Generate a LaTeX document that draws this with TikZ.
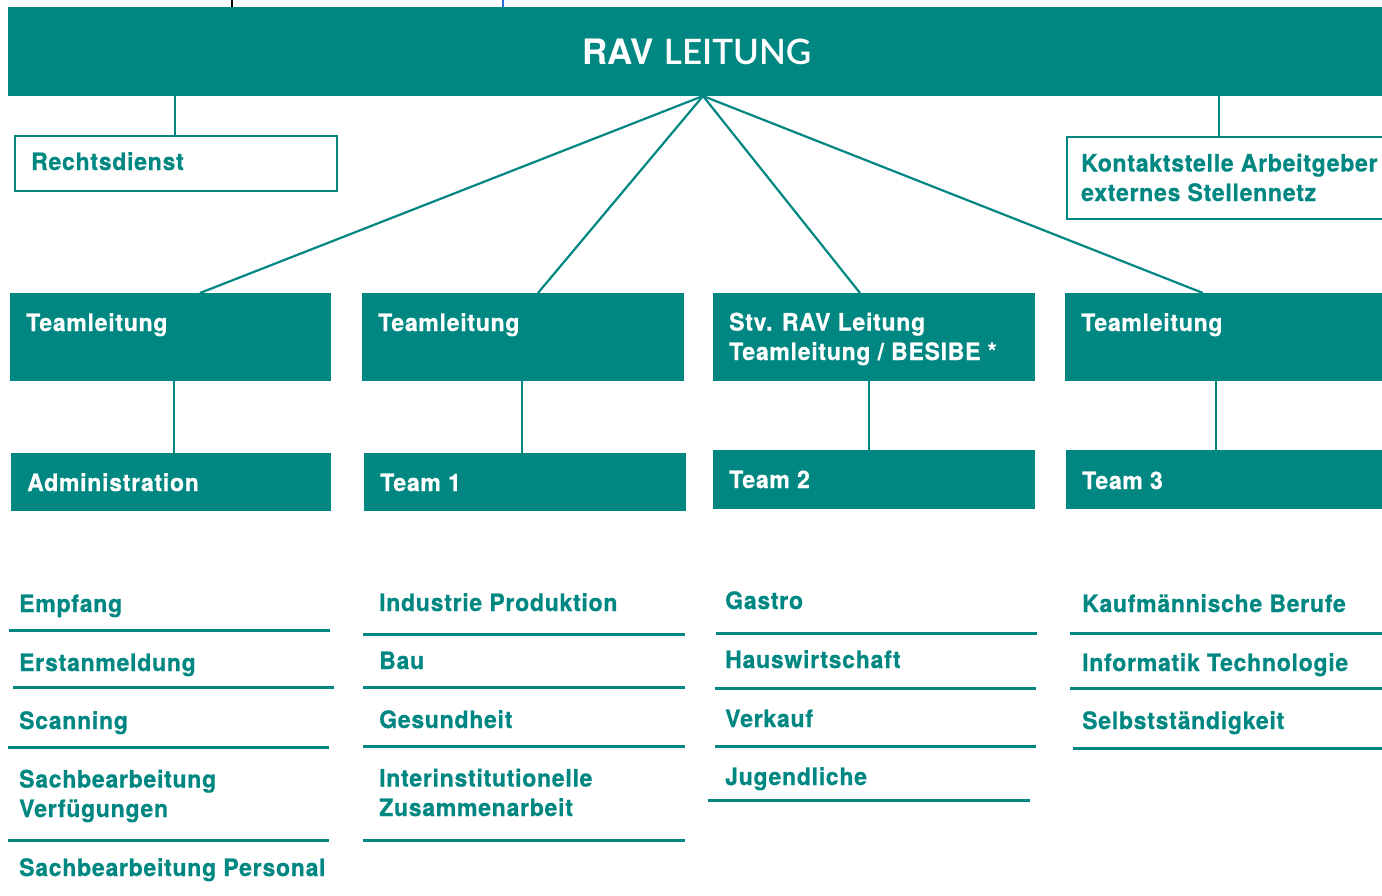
\documentclass[tikz,border=0pt]{standalone}
\usepackage{fontspec}
\setmainfont{TeX Gyre Heros}
\newfontfamily\labfont{TeX Gyre Heros}[FakeStretch=0.96,LetterSpace=3,BoldFeatures={FakeBold=0.6}]
\newfontfamily\lightfont{Lato Light}
\usetikzlibrary{calc}
\definecolor{rav}{RGB}{0,135,130}
\definecolor{topblue}{RGB}{40,110,220}
\begin{document}
\begin{tikzpicture}[x=1pt,y=-1pt,
  fillbox/.style={fill=rav, draw=none, inner sep=0, anchor=north west},
  outbox/.style={draw=rav, line width=2.4pt, fill=white, inner sep=0, anchor=north west},
  lab/.style={font=\labfont\bfseries\fontsize{24}{29.5}\selectfont, text=rav, inner sep=0, anchor=base west, align=left},
  wlab/.style={lab, text=white},
  conn/.style={draw=rav, line width=2.2pt},
  rule/.style={draw=rav, line width=3pt},
]
\useasboundingbox (0,0) rectangle (1382,895);

% short marks above the header
\draw[black, line width=2pt] (232,0) -- (232,8);
\draw[topblue, line width=2pt] (503,0) -- (503,8);

% header
\node[fillbox, minimum width=1374, minimum height=89] (rav) at (8,7) {};
\node[font=\fontsize{35}{40}\selectfont, text=white, inner sep=0, anchor=base] (ravt) at (697,64) {\bfseries RAV \lightfont LEITUNG};

% staff boxes
\node[outbox, minimum width=322, minimum height=55] (rd) at (14,135) {};
\node[lab] (rdt) at (31,170) {Rechtsdienst};
\node[outbox, minimum width=340, minimum height=82] (ks) at (1066,136) {};
\node[lab] (kst) at (1081,201) {Kontaktstelle Arbeitgeber\\externes Stellennetz};

% team leads
\node[fillbox, minimum width=321, minimum height=88] (tl1) at (10,293) {};
\node[fillbox, minimum width=322, minimum height=88] (tl2) at (362,293) {};
\node[fillbox, minimum width=322, minimum height=88] (tl3) at (713,293) {};
\node[fillbox, minimum width=317, minimum height=88] (tl4) at (1065,293) {};
\node[wlab] (tl1t) at (26,331) {Teamleitung};
\node[wlab] (tl2t) at (378,331) {Teamleitung};
\node[wlab] (tl3t) at (729,360) {Stv. RAV Leitung\\Teamleitung / BESIBE *};
\node[wlab] (tl4t) at (1081,331) {Teamleitung};

% teams
\node[fillbox, minimum width=320, minimum height=58] (adm) at (11,453) {};
\node[fillbox, minimum width=322, minimum height=58] (t1) at (364,453) {};
\node[fillbox, minimum width=322, minimum height=59] (t2) at (713,450) {};
\node[fillbox, minimum width=316, minimum height=59] (t3) at (1066,450) {};
\node[wlab] (admt) at (27,491) {Administration};
\node[wlab] (t1t) at (380,491) {Team 1};
\node[wlab] (t2t) at (729,488) {Team 2};
\node[wlab] (t3t) at (1082,489) {Team 3};

% connectors
\coordinate (apex) at (703,96);
\draw[conn] (apex) -- ([xshift=190pt]tl1.north west);
\draw[conn] (apex) -- ([xshift=176pt]tl2.north west);
\draw[conn] (apex) -- ([xshift=147pt]tl3.north west);
\draw[conn] (apex) -- ([xshift=138pt]tl4.north west);
\draw[conn] ($(rd.north |- rav.south)+(-1.5,0)$) -- ($(rd.north)+(-1.5,0)$);
\draw[conn] ($(ks.north |- rav.south)+(-18,0)$) -- ($(ks.north)+(-18,0)$);
\draw[conn] ($(tl1.south)+(3.5,0)$) -- ($(tl1.south |- adm.north)+(3.5,0)$);
\draw[conn] ($(tl2.south)+(-1.5,0)$) -- ($(tl2.south |- t1.north)+(-1.5,0)$);
\draw[conn] ($(tl3.south)+(-5,0)$) -- ($(tl3.south |- t2.north)+(-5,0)$);
\draw[conn] ($(tl4.south)+(-7.5,0)$) -- ($(tl4.south |- t3.north)+(-7.5,0)$);

% column 1
\node[lab] (c1a) at (19,612) {Empfang};
\node[lab] (c1b) at (19,671) {Erstanmeldung};
\node[lab] (c1c) at (19,729) {Scanning};
\node[lab] (c1d) at (19,817) {Sachbearbeitung\\Verfügungen};
\node[lab] (c1e) at (19,876) {Sachbearbeitung Personal};
\draw[rule] (9,630) -- (330,630);
\draw[rule] (13,687) -- (334,687);
\draw[rule] (8,747) -- (329,747);
\draw[rule] (8,840) -- (329,840);

% column 2
\node[lab] (c2a) at (379,611) {Industrie Produktion};
\node[lab] (c2b) at (379,669) {Bau};
\node[lab] (c2c) at (379,728) {Gesundheit};
\node[lab] (c2d) at (379,816) {Interinstitutionelle\\Zusammenarbeit};
\draw[rule] (363,634) -- (685,634);
\draw[rule] (363,687) -- (685,687);
\draw[rule] (363,746) -- (685,746);
\draw[rule] (363,840) -- (685,840);

% column 3
\node[lab] (c3a) at (725,609) {Gastro};
\node[lab] (c3b) at (725,668) {Hauswirtschaft};
\node[lab] (c3c) at (725,727) {Verkauf};
\node[lab] (c3d) at (725,785) {Jugendliche};
\draw[rule] (716,633) -- (1037,633);
\draw[rule] (715,688) -- (1036,688);
\draw[rule] (715,746) -- (1036,746);
\draw[rule] (708,800) -- (1030,800);

% column 4
\node[lab] (c4a) at (1082,612) {Kaufmännische Berufe};
\node[lab] (c4b) at (1082,671) {Informatik Technologie};
\node[lab] (c4c) at (1082,729) {Selbstständigkeit};
\draw[rule] (1070,633) -- (1382,633);
\draw[rule] (1070,688) -- (1382,688);
\draw[rule] (1073,748) -- (1382,748);
\end{tikzpicture}
\end{document}
